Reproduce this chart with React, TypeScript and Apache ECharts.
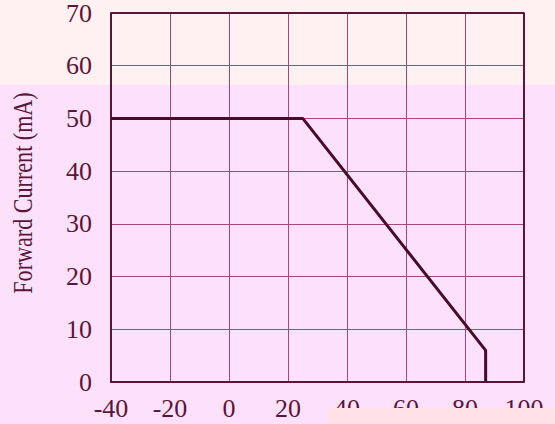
import React, { useEffect, useRef } from "react";
import * as echarts from "echarts";

const temperature = [-40, 25, 87, 87];
const current = [50, 50, 6, 0];
const xTicks = [-40, -20, 0, 20, 40, 60, 80, 100];
const yTicks = [0, 10, 20, 30, 40, 50, 60, 70];
const yTitle = "Forward Current (mA)";

export default function App() {
  const ref = useRef<HTMLDivElement>(null);
  useEffect(() => {
    if (!ref.current) return;
    const chart = echarts.init(ref.current, null, { renderer: "svg" });
    const font = "'Liberation Serif', 'DejaVu Serif', serif";
    chart.setOption({
      animation: false,
      backgroundColor: "#FDE1FC",
      graphic: [
        { type: "rect", z: -10, silent: true, shape: { x: 0, y: 0, width: 555, height: 85 }, style: { fill: "#FFF0F2" } },
        { type: "rect", z: 100, silent: true, shape: { x: 327, y: 408, width: 228, height: 16 }, style: { fill: "#FFE1E7" } },
        {
          type: "text",
          x: 23,
          y: 193,
          rotation: Math.PI / 2,
          scaleX: 0.79,
          silent: true,
          style: {
            text: yTitle,
            fontFamily: font,
            fontSize: 28,
            fill: "#5A1538",
            align: "center",
            verticalAlign: "middle",
          },
        },
      ],
      grid: { left: 111, right: 31, top: 13, bottom: 42, containLabel: false, outerBoundsMode: "none" },
      xAxis: {
        type: "value",
        min: xTicks[0],
        max: xTicks[xTicks.length - 1],
        interval: 20,
        axisLine: { show: true, onZero: false, lineStyle: { color: "#5A1538", width: 2 } },
        axisTick: { show: false },
        axisLabel: { color: "#5A1538", fontFamily: font, fontSize: 26, margin: 13 },
        splitLine: { show: true, lineStyle: { color: "#A04A75", width: 1 } },
      },
      yAxis: {
        type: "value",
        min: yTicks[0],
        max: yTicks[yTicks.length - 1],
        interval: 10,
        axisLine: { show: true, onZero: false, lineStyle: { color: "#5A1538", width: 2 } },
        axisTick: { show: false },
        axisLabel: { color: "#5A1538", fontFamily: font, fontSize: 26, margin: 19 },
        splitLine: { show: true, lineStyle: { color: "#A04A75", width: 1 } },
      },
      series: [
        {
          type: "line",
          data: temperature.map((t, i) => [t, current[i]]),
          showSymbol: false,
          lineStyle: { color: "#4A0A2A", width: 3 },
          z: 5,
        },
        {
          type: "line",
          data: [[xTicks[0], yTicks[yTicks.length - 1]], [xTicks[xTicks.length - 1], yTicks[yTicks.length - 1]], [xTicks[xTicks.length - 1], yTicks[0]]],
          showSymbol: false,
          lineStyle: { color: "#5A1538", width: 2 },
          z: 4,
          silent: true,
        },
      ],
    });
    return () => chart.dispose();
  }, []);
  return <div ref={ref} style={{ width: 555, height: 424, position: "absolute", left: 0, top: 0 }} />;
}
